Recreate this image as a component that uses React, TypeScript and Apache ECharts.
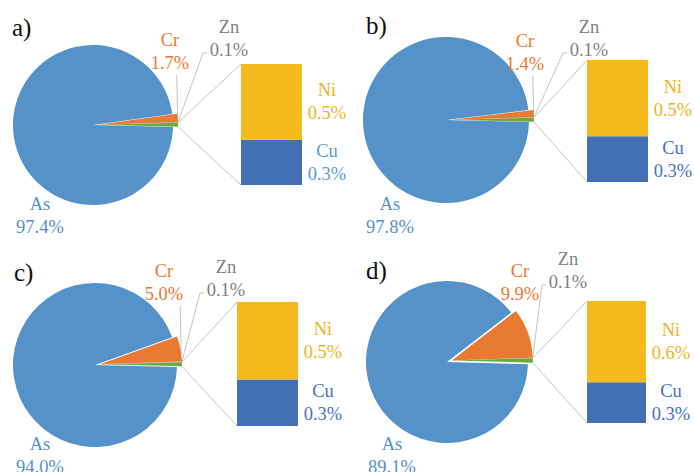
import React, { useEffect, useRef } from 'react';
import * as echarts from 'echarts';

// ---- data ----
const panelNames = ['a)', 'b)', 'c)', 'd)'];
const asValues = [97.4, 97.8, 94.0, 89.1];
const crValues = [1.7, 1.4, 5.0, 9.9];
const znValues = [0.1, 0.1, 0.1, 0.1];
const niValues = [0.5, 0.5, 0.5, 0.6];
const cuValues = [0.3, 0.3, 0.3, 0.3];

// ---- layout (pixels) ----
const layout = [
  { c: [93, 125], r: 80, bar: [241, 64, 61, 121], letter: [12, 27], asL: [40, 215], crL: [170, 51], znL: [229, 38], crLine: true, cuColor: '#5b9bd5' },
  { c: [446, 120], r: 83, bar: [587, 60, 61, 122], letter: [366, 25], asL: [390, 215], crL: [525, 52], znL: [589, 38], crLine: true, cuColor: '#4472c4' },
  { c: [95, 365], r: 82, bar: [237, 302, 61, 124], letter: [14, 272], asL: [40, 455], crL: [164, 282], znL: [226, 278], crLine: true, cuColor: '#4472c4' },
  { c: [447, 362], r: 81, bar: [587, 301, 59, 122], letter: [366, 270], asL: [392, 455], crL: [520, 282], znL: [568, 270], crLine: false, cuColor: '#4472c4' },
];

const BLUE = '#5592c9';
const ORANGE = '#e97a33';
const GREEN = '#6aaa42';
const GRAY = '#a5a5a5';
const YELLOW = '#f6ba1e';
const DARKBLUE = '#4370b5';
const LINE = '#c4c4c4';
const FONT = "'Liberation Serif', 'Times New Roman', serif";
const FS = 18.5;
const EXPLODE = 5;
const T = 'rgba(0,0,0,0)';

const rad = (d: number) => (d * Math.PI) / 180;
const pt = (c: number[], r: number, deg: number) => [c[0] + r * Math.cos(rad(deg)), c[1] - r * Math.sin(rad(deg))];
const fmt = (p: any) => `${p.name}\n${Number(p.value).toFixed(1)}%`;

function buildOption() {
  const series: any[] = [];
  const grids: any[] = [];
  const xAxes: any[] = [];
  const yAxes: any[] = [];
  const graphics: any[] = [];

  panelNames.forEach((name, i) => {
    const L = layout[i];
    const other = niValues[i] + cuValues[i];
    const total = asValues[i] + crValues[i] + znValues[i] + other;
    const otherDeg = (other / total) * 360;
    const znDeg = (znValues[i] / total) * 360;
    const crDeg = (crValues[i] / total) * 360;
    const S = otherDeg / 2;
    const mid = (znDeg + crDeg) / 2;
    const c2 = [L.c[0] + EXPLODE * Math.cos(rad(mid)), L.c[1] - EXPLODE * Math.sin(rad(mid))];

    const labelBase = { fontFamily: FONT, fontSize: FS, lineHeight: 23, formatter: fmt, position: 'outside' };
    const layoutFn = (p: any) => {
      const pos = p.dataIndex === 1 ? L.asL : p.dataIndex === 2 ? L.crL : L.znL;
      return { x: pos[0], y: pos[1], align: 'center', verticalAlign: 'middle' };
    };

    // main pie (As)
    series.push({
      type: 'pie', center: L.c, radius: L.r, startAngle: S, clockwise: true, silent: true,
      avoidLabelOverlap: false, emphasis: { disabled: true }, labelLine: { show: false },
      label: labelBase, labelLayout: layoutFn,
      data: [
        { name: 'Other', value: other, itemStyle: { color: T }, label: { show: false } },
        { name: 'As', value: asValues[i], itemStyle: { color: BLUE }, label: { show: true, color: BLUE, fontFamily: FONT } },
        { name: 'Cr', value: crValues[i], itemStyle: { color: T }, label: { show: false } },
        { name: 'Zn', value: znValues[i], itemStyle: { color: T }, label: { show: false } },
      ],
    });
    // exploded small slices
    series.push({
      type: 'pie', center: c2, radius: L.r, startAngle: S, clockwise: true, silent: true,
      avoidLabelOverlap: false, emphasis: { disabled: true }, labelLine: { show: false },
      label: labelBase, labelLayout: layoutFn,
      data: [
        { name: 'Other', value: other, itemStyle: { color: GREEN }, label: { show: false } },
        { name: 'As', value: asValues[i], itemStyle: { color: T }, label: { show: false } },
        { name: 'Cr', value: crValues[i], itemStyle: { color: ORANGE }, label: { show: true, color: ORANGE, fontFamily: FONT } },
        { name: 'Zn', value: znValues[i], itemStyle: { color: GRAY }, label: { show: true, color: '#7f7f7f', fontFamily: FONT } },
      ],
    });

    // bar of pie
    const [bl, bt, bw, bh] = L.bar;
    grids.push({ left: bl, top: bt, width: bw, height: bh });
    xAxes.push({ type: 'category', gridIndex: i, data: [''], show: false });
    yAxes.push({ type: 'value', gridIndex: i, min: 0, max: other, show: false });
    const barLabel = (color: string) => ({
      show: true, position: 'right', distance: 25, align: 'center', verticalAlign: 'middle',
      fontFamily: FONT, fontSize: FS, lineHeight: 23, color,
      formatter: (p: any) => `${p.seriesName}\n${Number(p.value).toFixed(1)}%`,
    });
    series.push({
      type: 'bar', name: 'Cu', xAxisIndex: i, yAxisIndex: i, stack: 'b' + i, barWidth: '100%', silent: true,
      itemStyle: { color: DARKBLUE }, label: barLabel(L.cuColor), data: [cuValues[i]],
    });
    series.push({
      type: 'bar', name: 'Ni', xAxisIndex: i, yAxisIndex: i, stack: 'b' + i, barWidth: '100%', silent: true,
      itemStyle: { color: YELLOW }, label: barLabel('#f2b31c'), data: [niValues[i]],
    });

    // connector lines pie -> bar
    const topEdge = pt(c2, L.r, S);
    const botEdge = pt(c2, L.r, -S);
    graphics.push({ type: 'line', shape: { x1: topEdge[0], y1: topEdge[1], x2: bl, y2: bt }, style: { stroke: LINE, lineWidth: 1 } });
    graphics.push({ type: 'line', shape: { x1: botEdge[0], y1: botEdge[1], x2: bl, y2: bt + bh }, style: { stroke: LINE, lineWidth: 1 } });

    // leader lines
    const crEdge = pt(c2, L.r, S + znDeg + Math.min(crDeg / 2, 6));
    if (L.crLine) {
      graphics.push({ type: 'polyline', shape: { points: [crEdge, [crEdge[0] - 1, L.crL[1] + 24]] }, style: { stroke: LINE, lineWidth: 1, fill: null } });
    }
    const znEdge = pt(c2, L.r, S + znDeg / 2);
    graphics.push({
      type: 'polyline',
      shape: { points: [znEdge, [L.znL[0] - 26, L.znL[1] + 15], [L.znL[0] - 22, L.znL[1] + 15]] },
      style: { stroke: LINE, lineWidth: 1, fill: null },
    });

    // panel letter
    graphics.push({
      type: 'text', x: L.letter[0], y: L.letter[1],
      style: { text: name, fontFamily: FONT, fontSize: 25, fill: '#111', textAlign: 'left', textVerticalAlign: 'middle' },
    });
  });

  return {
    animation: false, backgroundColor: '#fff',
    textStyle: { fontFamily: FONT },
    grid: grids, xAxis: xAxes, yAxis: yAxes, series, graphic: graphics,
  };
}

export default function App() {
  const ref = useRef<HTMLDivElement>(null);
  useEffect(() => {
    if (!ref.current) return;
    const chart = echarts.init(ref.current, undefined, { renderer: 'svg' });
    chart.setOption(buildOption() as any);
    return () => chart.dispose();
  }, []);
  return <div ref={ref} style={{ position: 'absolute', left: 0, top: 0, width: 694, height: 472 }} />;
}
